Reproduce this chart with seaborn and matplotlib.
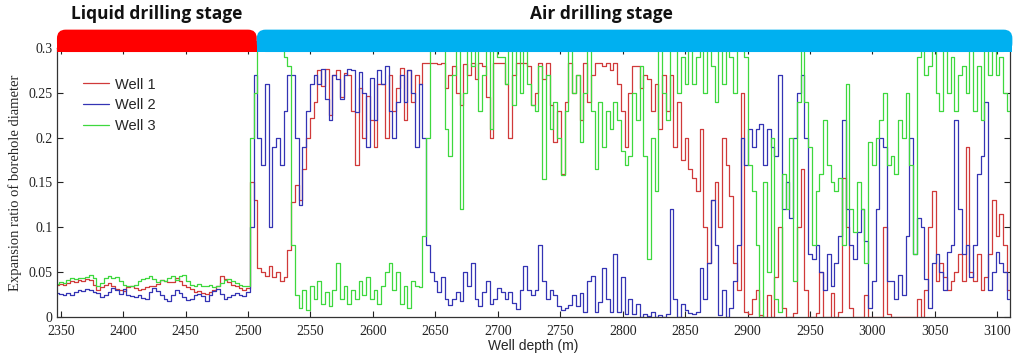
import numpy as np
import pandas as pd
import matplotlib
matplotlib.use("Agg")
import matplotlib.pyplot as plt
import matplotlib.transforms as mtransforms
from matplotlib.patches import FancyBboxPatch, Rectangle
import seaborn as sns

# --- Data: expansion ratio of borehole diameter, read every 3 m from 2347 m ---
depth_start = 2347
depth_step = 3

well1 = [
    0.036, 0.037, 0.036, 0.038, 0.040, 0.039, 0.041, 0.040, 0.042, 0.041,  # 2347
    0.036, 0.030, 0.033, 0.036, 0.038, 0.035, 0.031, 0.030, 0.029, 0.033,  # 2377
    0.035, 0.032, 0.030, 0.031, 0.033, 0.034, 0.035, 0.037, 0.041, 0.040,  # 2407
    0.039, 0.039, 0.044, 0.040, 0.036, 0.033, 0.031, 0.028, 0.029, 0.027,  # 2437
    0.026, 0.028, 0.030, 0.035, 0.046, 0.042, 0.039, 0.036, 0.035, 0.032,  # 2467
    0.030, 0.032, 0.150, 0.130, 0.055, 0.050, 0.046, 0.057, 0.045, 0.050,  # 2497
    0.040, 0.045, 0.075, 0.128, 0.147, 0.130, 0.165, 0.200, 0.222, 0.240,  # 2527
    0.275, 0.258, 0.277, 0.225, 0.270, 0.275, 0.245, 0.272, 0.270, 0.230,  # 2557
    0.170, 0.255, 0.200, 0.247, 0.220, 0.190, 0.260, 0.260, 0.200, 0.270,  # 2587
    0.230, 0.255, 0.278, 0.220, 0.275, 0.240, 0.270, 0.260, 0.283, 0.283,  # 2617
    0.283, 0.283, 0.282, 0.283, 0.255, 0.270, 0.280, 0.250, 0.236, 0.282,  # 2647
    0.270, 0.283, 0.265, 0.283, 0.280, 0.245, 0.200, 0.283, 0.283, 0.283,  # 2677
    0.260, 0.200, 0.270, 0.283, 0.283, 0.283, 0.280, 0.236, 0.250, 0.283,  # 2707
    0.265, 0.283, 0.236, 0.195, 0.230, 0.160, 0.240, 0.283, 0.250, 0.270,  # 2737
    0.220, 0.283, 0.240, 0.270, 0.283, 0.283, 0.280, 0.283, 0.275, 0.283,  # 2767
    0.260, 0.230, 0.190, 0.250, 0.280, 0.280, 0.255, 0.270, 0.265, 0.230,  # 2797
    0.260, 0.210, 0.270, 0.230, 0.270, 0.190, 0.240, 0.175, 0.200, 0.165,  # 2827
    0.155, 0.140, 0.210, 0.100, 0.060, 0.130, 0.150, 0.100, 0.200, 0.170,  # 2857
    0.135, 0.060, 0.030, 0.250, 0.005, 0.003, 0.020, 0.030, 0.002, 0.000,  # 2887
    0.025, 0.000, 0.045, 0.100, 0.010, 0.000, 0.000, 0.004, 0.100, 0.165,  # 2917
    0.030, 0.000, 0.000, 0.004, 0.050, 0.000, 0.000, 0.027, 0.000, 0.005,  # 2947
    0.155, 0.100, 0.010, 0.000, 0.000, 0.000, 0.025, 0.000, 0.000, 0.000,  # 2977
    0.000, 0.100, 0.003, 0.000, 0.000, 0.000, 0.000, 0.000, 0.000, 0.000,  # 3007
    0.020, 0.000, 0.030, 0.100, 0.140, 0.040, 0.060, 0.045, 0.030, 0.040,  # 3037
    0.050, 0.070, 0.040, 0.190, 0.050, 0.040, 0.070, 0.030, 0.045, 0.070,  # 3067
    0.130, 0.090, 0.115, 0.080, 0.030,                                     # 3097
]

well2 = [
    0.027, 0.026, 0.024, 0.027, 0.025, 0.028, 0.030, 0.029, 0.031, 0.030,  # 2347
    0.028, 0.027, 0.022, 0.024, 0.028, 0.032, 0.030, 0.026, 0.031, 0.025,  # 2377
    0.023, 0.022, 0.025, 0.021, 0.020, 0.028, 0.032, 0.029, 0.025, 0.020,  # 2407
    0.018, 0.024, 0.030, 0.027, 0.022, 0.019, 0.020, 0.024, 0.026, 0.023,  # 2437
    0.018, 0.024, 0.029, 0.031, 0.026, 0.020, 0.022, 0.025, 0.027, 0.024,  # 2467
    0.023, 0.028, 0.100, 0.270, 0.200, 0.170, 0.260, 0.100, 0.190, 0.200,  # 2497
    0.170, 0.230, 0.270, 0.270, 0.200, 0.125, 0.190, 0.230, 0.260, 0.270,  # 2527
    0.260, 0.277, 0.243, 0.220, 0.270, 0.265, 0.243, 0.270, 0.277, 0.275,  # 2557
    0.229, 0.273, 0.250, 0.190, 0.266, 0.220, 0.275, 0.260, 0.280, 0.230,  # 2587
    0.200, 0.240, 0.270, 0.240, 0.275, 0.250, 0.190, 0.260, 0.200, 0.080,  # 2617
    0.050, 0.040, 0.028, 0.045, 0.020, 0.013, 0.020, 0.028, 0.018, 0.050,  # 2647
    0.035, 0.060, 0.020, 0.012, 0.028, 0.040, 0.015, 0.020, 0.032, 0.028,  # 2677
    0.020, 0.028, 0.016, 0.009, 0.030, 0.057, 0.030, 0.025, 0.030, 0.080,  # 2707
    0.040, 0.020, 0.030, 0.025, 0.012, 0.008, 0.010, 0.013, 0.024, 0.012,  # 2737
    0.027, 0.006, 0.040, 0.046, 0.005, 0.017, 0.055, 0.020, 0.005, 0.070,  # 2767
    0.005, 0.045, 0.003, 0.020, 0.003, 0.015, 0.000, 0.003, 0.001, 0.005,  # 2797
    0.000, 0.002, 0.000, 0.003, 0.120, 0.020, 0.000, 0.015, 0.008, 0.004,  # 2827
    0.003, 0.005, 0.055, 0.020, 0.060, 0.130, 0.080, 0.002, 0.030, 0.000,  # 2857
    0.010, 0.040, 0.080, 0.200, 0.170, 0.210, 0.190, 0.210, 0.215, 0.170,  # 2887
    0.210, 0.190, 0.180, 0.270, 0.120, 0.150, 0.110, 0.200, 0.250, 0.270,  # 2917
    0.200, 0.070, 0.065, 0.080, 0.050, 0.030, 0.070, 0.035, 0.060, 0.090,  # 2947
    0.220, 0.120, 0.080, 0.065, 0.095, 0.120, 0.085, 0.010, 0.040, 0.120,  # 2977
    0.200, 0.190, 0.040, 0.040, 0.020, 0.047, 0.025, 0.090, 0.200, 0.070,  # 3007
    0.110, 0.100, 0.042, 0.010, 0.060, 0.070, 0.050, 0.030, 0.072, 0.080,  # 3037
    0.220, 0.120, 0.070, 0.080, 0.045, 0.080, 0.160, 0.180, 0.240, 0.030,  # 3067
    0.050, 0.072, 0.060, 0.050, 0.020,                                     # 3097
]

well3 = [
    0.037, 0.039, 0.038, 0.041, 0.043, 0.042, 0.044, 0.043, 0.045, 0.047,  # 2347
    0.043, 0.035, 0.038, 0.044, 0.046, 0.044, 0.045, 0.040, 0.036, 0.034,  # 2377
    0.034, 0.036, 0.040, 0.042, 0.044, 0.046, 0.042, 0.039, 0.041, 0.040,  # 2407
    0.043, 0.046, 0.041, 0.046, 0.047, 0.040, 0.036, 0.035, 0.037, 0.035,  # 2437
    0.034, 0.036, 0.033, 0.035, 0.038, 0.041, 0.042, 0.040, 0.038, 0.036,  # 2467
    0.035, 0.034, 0.200, 0.250, 0.310, 0.310, 0.310, 0.310, 0.310, 0.310,  # 2497
    0.310, 0.290, 0.280, 0.080, 0.025, 0.010, 0.030, 0.008, 0.035, 0.020,  # 2527
    0.040, 0.015, 0.028, 0.012, 0.030, 0.060, 0.020, 0.035, 0.015, 0.030,  # 2557
    0.020, 0.040, 0.025, 0.045, 0.020, 0.030, 0.015, 0.035, 0.050, 0.060,  # 2587
    0.030, 0.050, 0.015, 0.035, 0.010, 0.040, 0.035, 0.033, 0.090, 0.200,  # 2617
    0.310, 0.310, 0.300, 0.310, 0.210, 0.180, 0.270, 0.310, 0.120, 0.250,  # 2647
    0.310, 0.280, 0.310, 0.230, 0.270, 0.310, 0.210, 0.310, 0.290, 0.290,  # 2677
    0.260, 0.300, 0.236, 0.310, 0.250, 0.310, 0.260, 0.236, 0.230, 0.280,  # 2707
    0.154, 0.270, 0.210, 0.240, 0.200, 0.158, 0.230, 0.300, 0.250, 0.270,  # 2737
    0.195, 0.250, 0.310, 0.230, 0.165, 0.240, 0.190, 0.230, 0.210, 0.240,  # 2767
    0.220, 0.185, 0.170, 0.180, 0.250, 0.220, 0.280, 0.180, 0.065, 0.200,  # 2797
    0.140, 0.300, 0.250, 0.220, 0.300, 0.310, 0.250, 0.290, 0.260, 0.310,  # 2827
    0.260, 0.290, 0.310, 0.250, 0.310, 0.280, 0.240, 0.300, 0.260, 0.310,  # 2857
    0.290, 0.250, 0.310, 0.300, 0.290, 0.170, 0.140, 0.080, 0.000, 0.150,  # 2887
    0.050, 0.200, 0.020, 0.005, 0.160, 0.120, 0.200, 0.040, 0.240, 0.310,  # 2917
    0.240, 0.190, 0.080, 0.140, 0.160, 0.220, 0.170, 0.150, 0.140, 0.155,  # 2947
    0.080, 0.260, 0.120, 0.095, 0.150, 0.120, 0.060, 0.195, 0.170, 0.200,  # 2977
    0.220, 0.250, 0.170, 0.180, 0.160, 0.220, 0.200, 0.250, 0.170, 0.070,  # 3007
    0.290, 0.310, 0.270, 0.280, 0.310, 0.250, 0.230, 0.300, 0.250, 0.290,  # 3037
    0.230, 0.270, 0.280, 0.250, 0.310, 0.230, 0.280, 0.220, 0.300, 0.270,  # 3067
    0.310, 0.270, 0.290, 0.250, 0.230,                                     # 3097
]

well_names = ["Well 1", "Well 2", "Well 3"]
well_colors = ["#d03a3a", "#3434b4", "#3ed83e"]

# drilling stages shown as brackets above the plot
stage_names = ["Liquid drilling stage", "Air drilling stage"]
stage_from = [2347, 2507]
stage_to = [2507, 3112]
stage_label_x = [2427, 2783]
stage_colors = ["#ff0000", "#00b0f0"]

xticks = list(range(2350, 3101, 50))
yticks = [0, 0.05, 0.1, 0.15, 0.2, 0.25, 0.3]
ytick_labels = ["0", "0.05", "0.1", "0.15", "0.2", "0.25", "0.3"]

# --- Long-form table for seaborn ---
depth = depth_start + depth_step * np.arange(len(well1))
df = pd.concat([
    pd.DataFrame({"depth": depth, "ratio": vals, "well": name})
    for name, vals in zip(well_names, [well1, well2, well3])
], ignore_index=True)

# --- Plot ---
sns.set_style("ticks")
plt.rcParams["font.family"] = ["Liberation Serif", "DejaVu Serif"]

fig = plt.figure(figsize=(10.17, 3.61), dpi=100)
ax = fig.add_axes([0.056, 0.122, 0.937, 0.745])

sns.lineplot(data=df, x="depth", y="ratio", hue="well",
             palette=dict(zip(well_names, well_colors)),
             estimator=None, errorbar=None, linewidth=0.9,
             drawstyle="steps-mid", ax=ax)

ax.set_xlim(2347, 3110)
ax.set_ylim(0, 0.3)
ax.set_xticks(xticks)
ax.set_yticks(yticks)
ax.set_yticklabels(ytick_labels)
ax.tick_params(direction="in", top=True, right=True, length=4,
               width=0.8, labelsize=10, pad=3, colors="#222222")
ax.tick_params(axis="x", pad=5.5)
for sp in ax.spines.values():
    sp.set_color("#333333")
    sp.set_linewidth(0.9)

ax.set_xlabel("Well depth (m)", family=["Liberation Sans", "DejaVu Sans"],
              fontsize=10, labelpad=1)
ax.set_ylabel("Expansion ratio of borehole diameter", fontsize=10.5,
              labelpad=5)

handles, labels = ax.get_legend_handles_labels()
ax.legend(handles, labels, loc="upper left", bbox_to_anchor=(0.027, 0.89),
          frameon=False, borderpad=0, borderaxespad=0, handlelength=1.8,
          handletextpad=0.4, labelspacing=0.45,
          prop={"family": ["Liberation Sans", "DejaVu Sans"], "size": 10.5})

# stage brackets
fig.canvas.draw()
p0 = ax.transData.transform((0, 0))
px_x = ax.transData.transform((1, 0))[0] - p0[0]
px_y = ax.transData.transform((0, 1))[1] - p0[1]
aspect = px_x / px_y
y_lo, y_hi = 0.2955, 0.3205
blend = mtransforms.blended_transform_factory(ax.transData, ax.transAxes)
for name, x0, x1, xl, col in zip(stage_names, stage_from, stage_to,
                                 stage_label_x, stage_colors):
    box = FancyBboxPatch((x0, y_lo), x1 - x0, y_hi - y_lo,
                         boxstyle="round,pad=0,rounding_size=7",
                         mutation_aspect=aspect, facecolor=col,
                         edgecolor="none", clip_on=False, zorder=5)
    ax.add_patch(box)
    ax.add_patch(Rectangle((x0, y_lo), x1 - x0, (y_hi - y_lo) / 2,
                           facecolor=col, edgecolor="none",
                           clip_on=False, zorder=5))
    ax.text(xl, 1.128, name, transform=blend, ha="center", va="center",
            fontsize=12.5, fontweight="bold",
            family=["Open Sans", "DejaVu Sans"], color="#111111")

fig.savefig("out.png", dpi=100)
